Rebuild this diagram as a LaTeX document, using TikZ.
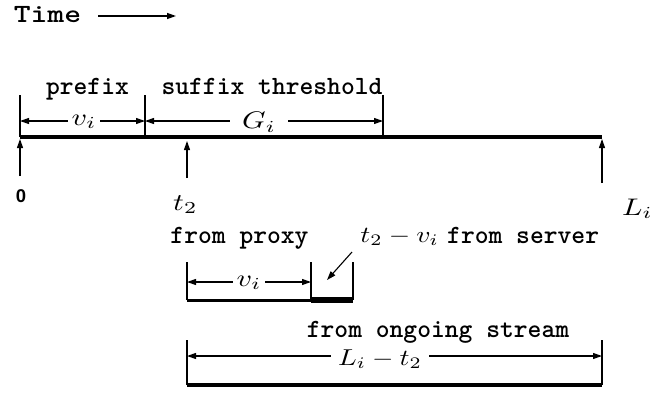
\documentclass[tikz,border=0pt]{standalone}
\usepackage{fontspec}
\usepackage{graphicx}
\setsansfont{Liberation Sans}
\newfontfamily\cour{lmmonolt10-bold.otf}
\usetikzlibrary{arrows.meta}
\newcommand{\mm}[1]{\scalebox{3.0}[2.4]{$#1$}}
\newcommand{\mmn}[1]{\scalebox{2.75}[2.3]{$#1$}}
\begin{document}
\begin{tikzpicture}[x=1pt,y=-1pt,
  tip/.style={-{Triangle[length=9pt,width=6pt]}},
  dim/.style={{Triangle[length=9pt,width=6pt]}-{Triangle[length=9pt,width=6pt]}, line width=1.1pt},
  tick/.style={line width=1.1pt},
  bar/.style={line width=3.5pt},
  mono/.style={font=\cour\fontsize{26.3}{26.3}\selectfont, inner sep=0pt},
  mlab/.style={inner xsep=4pt, inner ysep=0pt, fill=white},
  plab/.style={inner sep=0pt}]
\useasboundingbox (0,0) rectangle (657,394);
% title
\node[mono, anchor=base] (time) at (47.5,22) {\scalebox{1.22}[1]{Time}};
\coordinate (ta) at (98,16);
\coordinate (tb) at (176,16);
\draw[tip, line width=1.3pt] (ta) -- (tb);
% main timeline
\coordinate (m0) at (20,137);
\coordinate (m1) at (145,137);
\coordinate (m2) at (383,137);
\coordinate (m3) at (602,137);
\coordinate (m0t) at (20,95);
\coordinate (m1t) at (145,95);
\coordinate (m2t) at (383,95);
\draw[bar] (m0) -- (m3);
\draw[tick] (m0) -- (m0t);
\draw[tick] (m1) -- (m1t);
\draw[tick] (m2) -- (m2t);
\coordinate (d0) at (20,121);
\coordinate (d1) at (145,121);
\coordinate (d2) at (383,121);
\draw[dim] (d0) -- (d1);
\draw[dim] (d1) -- (d2);
\node[mlab] (vi) at (84,122) {\mm{v_i}};
\node[mlab, inner xsep=12pt] (gi) at (259,122) {\mm{G_i}};
\node[mono, anchor=base] (prefix) at (87.5,94) {prefix};
\node[mono, anchor=base] (suffix) at (272,94) {suffix threshold};
% up arrows
\coordinate (a0) at (20,176);
\coordinate (a0e) at (20,139);
\draw[tip, tick] (a0) -- (a0e);
\node[font=\sffamily\bfseries\fontsize{18.5}{18.5}\selectfont, inner sep=0pt] (zero) at (21,196.5) {0};
\coordinate (a1) at (187,178);
\coordinate (a1e) at (187,141);
\draw[tip, tick] (a1) -- (a1e);
\node[plab, anchor=base west] (t2) at (173,210) {\mm{t_2}};
\coordinate (a2) at (602,183);
\coordinate (a2e) at (602,139);
\draw[tip, tick] (a2) -- (a2e);
\node[plab, anchor=base west] (li) at (622,215) {\mm{L_i}};
% from proxy
\node[mono, anchor=base] (proxy) at (239.5,243) {from proxy};
\node[plab, anchor=base east] (serverm) at (439,242) {\mmn{t_2-v_i}};
\node[mono, anchor=base west] (server) at (447,243) {from server};
\coordinate (p0) at (187,300);
\coordinate (p1) at (311,300);
\coordinate (p2) at (353,300);
\coordinate (p0t) at (187,262);
\coordinate (p1t) at (311,262);
\coordinate (p2t) at (353,262);
\draw[tick] (p0) -- (p0t);
\draw[tick] (p1) -- (p1t);
\draw[tick] (p2) -- (p2t);
\draw[line width=3pt] (p0) -- (p1);
\draw[line width=5.5pt] (p1) -- (p2);
\coordinate (q0) at (187,282);
\coordinate (q1) at (311,282);
\draw[dim] (q0) -- (q1);
\node[mlab] (vi2) at (249,283) {\mm{v_i}};
\coordinate (s0) at (352,252);
\coordinate (s1) at (327,280);
\draw[tip, tick] (s0) -- (s1);
% ongoing stream
\coordinate (o0) at (187,385);
\coordinate (o1) at (602,385);
\coordinate (o0t) at (187,340);
\coordinate (o1t) at (602,340);
\draw[tick] (o0) -- (o0t);
\draw[tick] (o1) -- (o1t);
\draw[bar] (o0) -- (o1);
\coordinate (r0) at (187,356);
\coordinate (r1) at (602,356);
\draw[dim] (r0) -- (r1);
\node[mlab, inner xsep=7pt] (lt) at (380,359) {\mmn{L_i-t_2}};
\node[mono, anchor=base] (stream) at (438,337) {from ongoing stream};
\end{tikzpicture}
\end{document}
